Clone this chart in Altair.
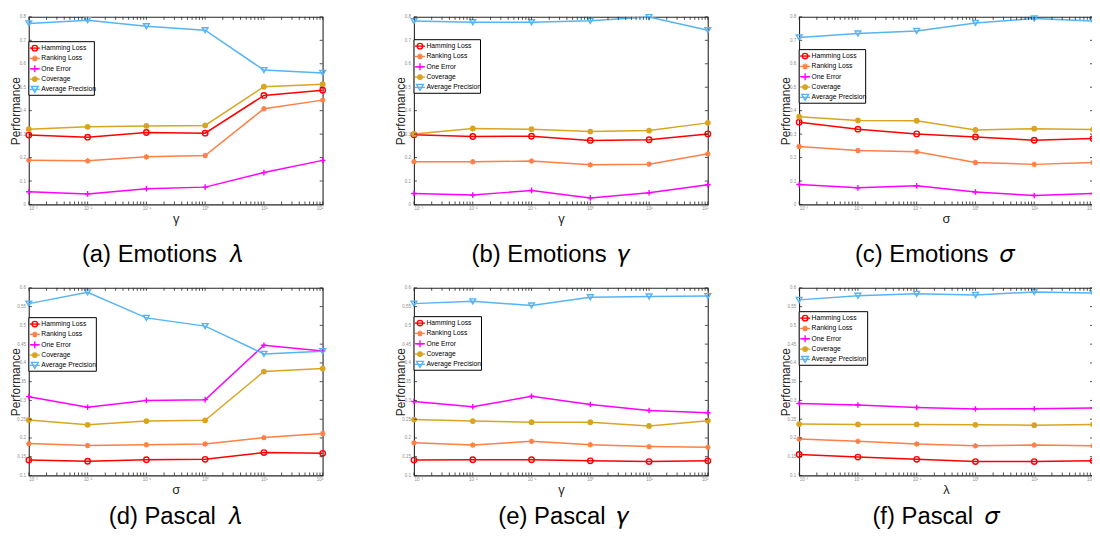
import altair as alt
import pandas as pd

SERIES = ["Hamming Loss", "Ranking Loss", "One Error", "Coverage", "Average Precision"]
COLORS = ["#ff0000", "#ff7f45", "#ff00ff", "#d9a520", "#55b4f5"]
SHAPES = ["circle",
          "M-1,0H1M0,-1V1M-0.7,-0.7L0.7,0.7M-0.7,0.7L0.7,-0.7",
          "M-1,0H1M0,-1V1",
          "circle",
          "triangle-down"]
SIZES = [30, 34, 50, 34, 48]

X_VALUES = [0.001, 0.01, 0.1, 1, 10, 100]
X_LABELS = ["10⁻³", "10⁻²", "10⁻¹", "10⁰", "10¹", "10²"]
X_MINOR = [m * 10.0 ** e for e in range(-3, 2) for m in range(2, 10)]

Y_TICKS_TOP = [0, 0.1, 0.2, 0.3, 0.4, 0.5, 0.6, 0.7, 0.8]
Y_TICKS_BOTTOM = [0.1, 0.15, 0.2, 0.25, 0.3, 0.35, 0.4, 0.45, 0.5, 0.55, 0.6]

# (a) Emotions lambda
A_HL = [0.296, 0.287, 0.307, 0.304, 0.465, 0.487]
A_RL = [0.189, 0.186, 0.203, 0.209, 0.408, 0.445]
A_OE = [0.054, 0.045, 0.067, 0.074, 0.136, 0.188]
A_CV = [0.321, 0.331, 0.335, 0.337, 0.502, 0.513]
A_AP = [0.772, 0.786, 0.760, 0.743, 0.573, 0.561]
# (b) Emotions gamma
B_HL = [0.297, 0.290, 0.291, 0.273, 0.276, 0.301]
B_RL = [0.182, 0.182, 0.185, 0.169, 0.172, 0.216]
B_OE = [0.047, 0.040, 0.060, 0.028, 0.050, 0.084]
B_CV = [0.301, 0.324, 0.321, 0.311, 0.315, 0.348]
B_AP = [0.782, 0.777, 0.777, 0.783, 0.799, 0.743]
# (c) Emotions sigma
C_HL = [0.351, 0.321, 0.301, 0.288, 0.274, 0.281]
C_RL = [0.247, 0.230, 0.225, 0.179, 0.171, 0.179]
C_OE = [0.085, 0.071, 0.080, 0.053, 0.038, 0.047]
C_CV = [0.374, 0.358, 0.357, 0.318, 0.323, 0.320]
C_AP = [0.712, 0.729, 0.740, 0.774, 0.793, 0.782]
# (d) Pascal lambda
D_HL = [0.141, 0.138, 0.142, 0.143, 0.161, 0.159]
D_RL = [0.185, 0.180, 0.182, 0.184, 0.201, 0.212]
D_OE = [0.310, 0.282, 0.300, 0.302, 0.447, 0.432]
D_CV = [0.248, 0.235, 0.245, 0.247, 0.377, 0.385]
D_AP = [0.558, 0.588, 0.520, 0.498, 0.424, 0.431]
# (e) Pascal gamma
E_HL = [0.141, 0.142, 0.142, 0.139, 0.137, 0.139]
E_RL = [0.187, 0.181, 0.191, 0.182, 0.177, 0.175]
E_OE = [0.297, 0.283, 0.311, 0.289, 0.273, 0.267]
E_CV = [0.249, 0.245, 0.242, 0.242, 0.232, 0.246]
E_AP = [0.558, 0.564, 0.553, 0.575, 0.577, 0.578]
# (f) Pascal sigma
F_HL = [0.156, 0.149, 0.143, 0.137, 0.137, 0.139]
F_RL = [0.197, 0.191, 0.184, 0.179, 0.181, 0.179]
F_OE = [0.292, 0.288, 0.281, 0.277, 0.278, 0.280]
F_CV = [0.237, 0.236, 0.236, 0.235, 0.234, 0.236]
F_AP = [0.568, 0.579, 0.584, 0.581, 0.589, 0.586]

CAPTIONS = ["(a) Emotions\u2002𝜆", "(b) Emotions\u2002𝛾", "(c) Emotions\u2002𝜎",
            "(d) Pascal\u2002𝜆", "(e) Pascal\u2002𝛾", "(f) Pascal\u2002𝜎"]
X_TITLES = ["γ", "γ", "σ", "σ", "γ", "λ"]

PANELS = [
    dict(vals=[A_HL, A_RL, A_OE, A_CV, A_AP], top=True, leg_y=25, leg_w=66, cap_dx=-14),
    dict(vals=[B_HL, B_RL, B_OE, B_CV, B_AP], top=True, leg_y=23, leg_w=67, cap_dx=-10),
    dict(vals=[C_HL, C_RL, C_OE, C_CV, C_AP], top=True, leg_y=33, leg_w=67, cap_dx=-11),
    dict(vals=[D_HL, D_RL, D_OE, D_CV, D_AP], top=False, leg_y=30, leg_w=68, cap_dx=-1),
    dict(vals=[E_HL, E_RL, E_OE, E_CV, E_AP], top=False, leg_y=29, leg_w=68, cap_dx=3),
    dict(vals=[F_HL, F_RL, F_OE, F_CV, F_AP], top=False, leg_y=24, leg_w=69, cap_dx=-10),
]

W = 296
H = 189
FRAME = "#262626"
FONT = "Liberation Sans"

label_expr = "[" + ",".join("'%s'" % l for l in X_LABELS) + "][round(log(datum.value)/LN10)+3]"

color_scale = alt.Scale(domain=SERIES, range=COLORS)
shape_scale = alt.Scale(domain=SERIES, range=SHAPES)
size_scale = alt.Scale(domain=SERIES, range=SIZES)


def make_panel(i, p):
    ydom = [0, 0.8] if p["top"] else [0.1, 0.6]
    yticks = Y_TICKS_TOP if p["top"] else Y_TICKS_BOTTOM
    xscale = alt.Scale(type="log", domain=[0.001, 100], nice=False)
    yscale = alt.Scale(domain=ydom, nice=False, zero=False)
    xaxis = alt.Axis(values=X_VALUES, labelExpr=label_expr, labelFontSize=4.5,
                     labelColor="#8c8c8c", labelPadding=1, ticks=False, domain=False,
                     grid=False, title=X_TITLES[i], titleFontSize=13, titleFont=FONT,
                     titleFontWeight="normal", titleColor=FRAME, titlePadding=3)
    yaxis = alt.Axis(values=yticks, format="~g", labelFontSize=4.5, labelColor="#8c8c8c",
                     labelPadding=3.5, ticks=False, domain=False, grid=False,
                     title="Performance", titleFontSize=12, titleFont=FONT,
                     titleFontWeight="normal", titleColor=FRAME,
                     titleX=-9.5, titleY=H / 2, titleAngle=270, titleAlign="center",
                     titleBaseline="alphabetic")

    rows = []
    for s, v in zip(SERIES, p["vals"]):
        for xv, yv in zip(X_VALUES, v):
            rows.append({"series": s, "x": xv, "y": yv})
    df = pd.DataFrame(rows)

    X = alt.X("x:Q", scale=xscale, axis=xaxis)
    Y = alt.Y("y:Q", scale=yscale, axis=yaxis)
    col = alt.Color("series:N", scale=color_scale, legend=None)

    lines = alt.Chart(df).mark_line(strokeWidth=1.5).encode(x=X, y=Y, color=col, detail="series:N")
    pts_open = alt.Chart(df).transform_filter(alt.datum.series != "Coverage").mark_point(
        filled=False, strokeWidth=1.4, opacity=1).encode(
        x=X, y=Y, color=col,
        shape=alt.Shape("series:N", scale=shape_scale, legend=None),
        size=alt.Size("series:N", scale=size_scale, legend=None))
    pts_fill = alt.Chart(df).transform_filter(alt.datum.series == "Coverage").mark_point(
        filled=True, opacity=1, shape="circle", size=34).encode(x=X, y=Y, color=col)

    xt = pd.DataFrame({"x": X_VALUES + X_MINOR})
    yt = pd.DataFrame({"y": yticks})
    tick_style = dict(color=FRAME, strokeWidth=0.8)
    xt_bot = alt.Chart(xt).mark_rule(**tick_style).encode(x=X, y=alt.value(H), y2=alt.value(H - 3))
    xt_top = alt.Chart(xt).mark_rule(**tick_style).encode(x=X, y=alt.value(0), y2=alt.value(3))
    yt_left = alt.Chart(yt).mark_rule(**tick_style).encode(y=Y, x=alt.value(0), x2=alt.value(3))
    yt_right = alt.Chart(yt).mark_rule(**tick_style).encode(y=Y, x=alt.value(W), x2=alt.value(W - 3))

    ly = p["leg_y"]
    lw = p["leg_w"]
    box = alt.Chart(pd.DataFrame({"k": [0]})).mark_rect(
        fill="white", stroke="black", strokeWidth=1).encode(
        x=alt.value(0), x2=alt.value(lw), y=alt.value(ly), y2=alt.value(ly + 54))

    leg_layers = []
    for j, s in enumerate(SERIES):
        cy = ly + 6.5 + j * 10.4
        one = pd.DataFrame({"series": [s]})
        leg_layers.append(alt.Chart(one).mark_rule(color=COLORS[j], strokeWidth=1.4).encode(
            x=alt.value(1), x2=alt.value(11), y=alt.value(cy)))
        leg_layers.append(alt.Chart(one).mark_point(
            shape=SHAPES[j], size=SIZES[j], color=COLORS[j], filled=(s == "Coverage"),
            strokeWidth=1.4, opacity=1).encode(x=alt.value(6), y=alt.value(cy)))
        leg_layers.append(alt.Chart(one).mark_text(
            align="left", baseline="middle", fontSize=6.8, font=FONT, color="black").encode(
            x=alt.value(12.5), y=alt.value(cy), text="series:N"))

    cap_y = H + 58 if p["top"] else H + 49
    caption = alt.Chart(pd.DataFrame({"caption": [CAPTIONS[i]]})).mark_text(
        align="center", baseline="alphabetic", fontSize=24, font=FONT, color="black").encode(
        x=alt.value(W / 2 + p["cap_dx"]), y=alt.value(cap_y), text="caption:N")

    layer = alt.layer(lines, pts_open, pts_fill, xt_bot, xt_top, yt_left, yt_right, box,
                      *leg_layers, caption)
    return layer.properties(width=W, height=H)


panels = [make_panel(i, p) for i, p in enumerate(PANELS)]

PAD_LEFT = 21
PAD_TOP = 7
SVG_W = 1092
SVG_H = 522

chart = alt.concat(*panels, columns=3, spacing={"row": 84, "column": 92}, bounds="flush").properties(
    autosize=alt.AutoSizeParams(type="none"),
    padding={"left": PAD_LEFT, "top": PAD_TOP, "right": SVG_W - PAD_LEFT, "bottom": SVG_H - PAD_TOP}
).configure_view(stroke=FRAME, strokeWidth=1.1)

chart.save("out.html", embed_options={"renderer": "svg", "actions": False})
